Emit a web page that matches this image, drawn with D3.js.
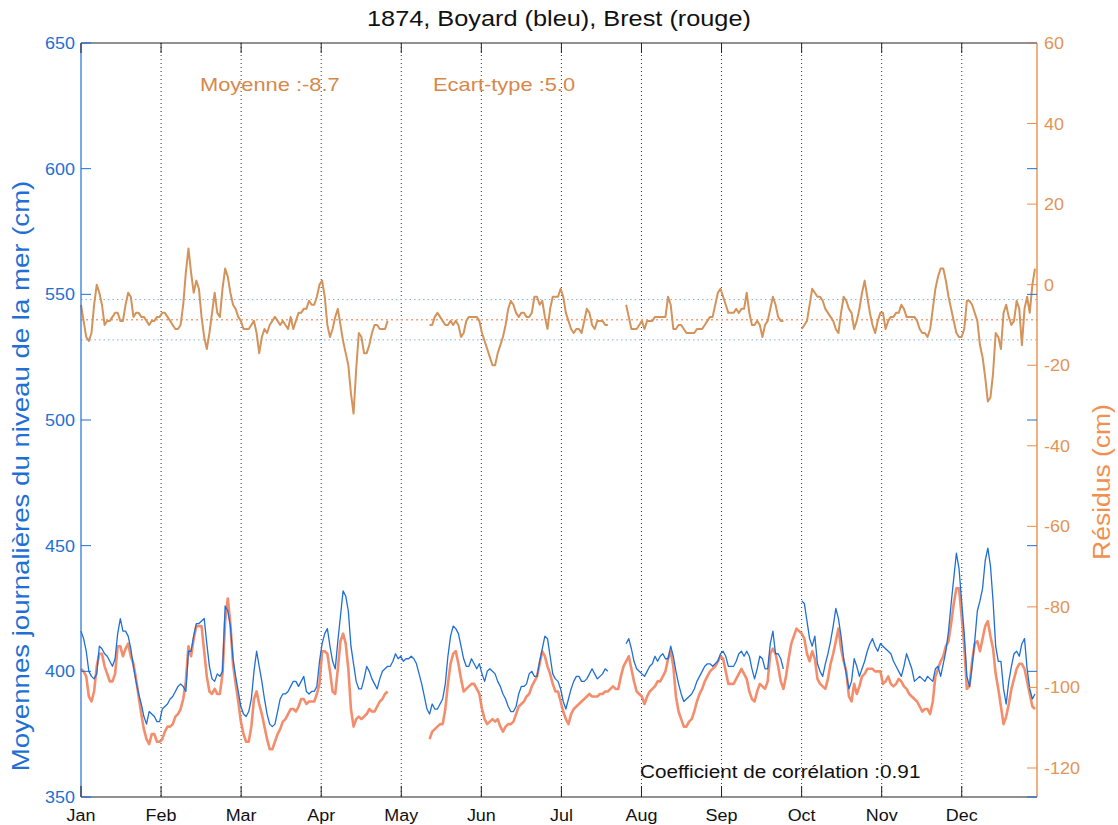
<!DOCTYPE html>
<html><head><meta charset="utf-8">
<script src="https://cdn.jsdelivr.net/npm/d3@7"></script>
<style>
body{margin:0;background:#fff}
svg{display:block}
text{font-family:"Liberation Sans",Arial,Helvetica,sans-serif}
</style>
</head><body>
<svg id="chart" width="1118" height="825"></svg>
<script>
// ---------- data ----------
const titleText = "1874, Boyard (bleu), Brest (rouge)";
const monthLabels = ["Jan","Feb","Mar","Apr","May","Jun","Jul","Aug","Sep","Oct","Nov","Dec"];
const leftTicks = [350,400,450,500,550,600,650];
const rightTicks = [-120,-100,-80,-60,-40,-20,0,20,40,60];
const residMean = -8.7;
const residStd = 5.0;
const correlation = 0.91;

// Boyard daily mean sea level (cm), day index 0..364
const boyard = [
416,413,408,400,398,397,399,410,409,407,
406,404,402,405,415,421,416,416,414,409,
402,396,391,387,382,379,384,383,382,380,
380,385,386,387,389,390,392,394,395,394,
392,408,408,414,419,419,420,421,411,402,
397,396,399,398,400,426,424,418,405,398,
392,386,383,382,384,389,400,408,402,396,
389,383,379,378,379,384,389,391,391,392,
394,396,396,394,396,398,392,391,392,392,
394,404,411,415,417,410,404,401,412,422,
432,430,424,410,403,396,393,393,397,402,
400,397,395,393,397,400,401,402,402,404,
407,405,406,404,405,405,406,405,403,399,
395,390,385,383,387,385,385,387,389,395,
406,414,418,417,415,410,405,402,402,405,
403,401,403,399,396,400,401,400,399,396,
394,391,389,386,384,384,386,391,394,394,
395,399,400,398,398,404,409,414,413,406,
399,397,396,393,388,385,389,393,396,398,
398,396,396,397,399,401,399,397,398,399,
401,400,null,null,null,null,null,null,411,413,
409,404,401,400,399,398,400,402,403,406,
404,406,407,405,405,410,406,400,395,391,
388,389,390,391,393,396,398,400,402,403,
403,402,403,404,407,408,406,402,402,402,
404,407,408,406,408,406,401,397,401,406,
405,401,401,411,416,407,407,405,401,null,
null,null,null,null,null,428,427,420,413,410,
414,403,400,398,403,407,412,418,425,421,
414,405,399,393,396,405,402,398,401,404,
408,411,413,410,408,411,410,409,408,407,
404,402,400,398,402,407,404,401,396,397,
398,397,396,398,397,396,401,402,398,403,
408,416,427,437,447,441,428,415,398,394,
402,412,424,428,433,444,449,442,428,410,
404,404,393,387,396,402,407,408,406,411,
413,401,393,389,391
];

// Brest daily mean sea level (cm)
const brest = [
401,400,398,390,388,392,402,407,407,402,
399,396,396,399,410,410,406,409,411,406,
403,397,390,383,377,373,371,375,375,372,
372,373,376,378,378,379,382,383,385,389,
396,410,406,413,418,418,418,408,398,392,
391,393,391,391,399,420,429,419,403,395,
388,380,375,372,372,378,389,392,387,383,
378,373,369,369,372,375,377,380,381,383,
385,385,384,386,389,389,387,388,388,388,
391,395,408,408,407,400,392,391,401,412,
415,411,401,385,378,381,382,381,382,383,
385,384,384,386,388,389,391,392,null,null,
null,null,null,null,null,null,null,null,null,null,
null,null,null,373,376,377,378,379,379,385,
395,403,407,408,403,397,392,393,394,395,
395,393,391,385,381,379,380,381,380,381,
378,376,378,379,379,380,383,386,387,388,
390,391,394,396,398,403,408,406,402,399,
395,392,392,388,384,381,379,383,385,386,
387,388,389,390,391,390,390,390,391,391,
392,392,393,394,393,393,398,402,404,406,
401,396,392,391,390,387,390,392,393,394,
396,396,398,400,405,408,402,390,384,381,
378,378,380,381,384,388,391,393,396,398,
400,401,402,404,406,405,400,395,395,395,
397,399,401,399,397,392,389,388,392,395,
394,393,396,407,409,407,402,396,393,398,
405,411,414,417,416,415,413,407,404,408,
405,397,395,394,393,397,403,407,412,417,
409,404,400,390,388,395,391,394,398,399,
401,401,401,400,400,400,395,396,398,395,
394,395,397,396,394,393,391,390,389,388,
386,384,385,385,383,388,398,401,404,406,
410,412,419,427,433,433,422,410,393,394,
404,411,412,408,413,418,420,414,409,399,
393,386,379,382,387,393,397,401,403,403,
401,396,391,386,385
];

// Residuals (cm), right axis
const residus = [
-5,-9,-13,-14,-12,-5,0,-2,-5,-10,
-9,-9,-8,-7,-7,-9,-9,-5,-2,-3,
-8,-7,-7,-8,-8,-9,-10,-9,-9,-8,
-8,-7,-7,-8,-9,-10,-11,-11,-10,-5,
3,9,3,-2,1,-1,-8,-13,-16,-12,
-7,-2,-7,-8,-1,4,2,-2,-5,-6,
-8,-9,-11,-11,-11,-10,-9,-12,-17,-13,
-11,-12,-10,-9,-8,-9,-10,-9,-10,-11,
-8,-11,-9,-7,-7,-6,-6,-4,-5,-5,
-3,0,1,-3,-10,-13,-11,-8,-6,-10,
-14,-17,-20,-27,-32,-21,-12,-13,-17,-17,
-15,-12,-10,-10,-11,-11,-11,-9,null,null,
null,null,null,null,null,null,null,null,null,null,
null,null,null,-10,-10,-8,-7,-8,-9,-10,
-10,-9,-10,-9,-10,-13,-12,-9,-8,-8,
-8,-8,-9,-12,-14,-16,-18,-20,-20,-17,
-15,-13,-10,-6,-4,-5,-7,-8,-7,-7,
-8,-8,-7,-3,-3,-5,-4,-8,-11,-6,
-3,-3,-3,-1,-3,-7,-9,-11,-12,-11,
-11,-12,-9,-6,-7,-10,-11,-9,-9,-9,
-10,-10,null,null,null,null,null,null,-5,-8,
-11,-11,-11,-10,-9,-11,-9,-9,-9,-8,
-8,-8,-8,-8,-3,-5,-11,-11,-10,-10,
-11,-12,-12,-12,-12,-11,-11,-11,-10,-9,
-8,-8,-5,-2,-1,-3,-5,-7,-7,-7,
-6,-7,-6,-6,-2,-7,-10,-10,-9,-10,
-13,-10,-9,-6,-3,-5,-8,-9,-9,null,
null,null,null,null,null,-11,-10,-9,-5,-1,
-2,-3,-3,-4,-6,-7,-8,-9,-11,-12,
-7,-3,-4,-6,-7,-11,-9,-6,-2,1,
-3,-7,-10,-12,-9,-7,-7,-11,-9,-8,
-8,-7,-7,-5,-6,-8,-8,-8,-8,-9,
-11,-12,-12,-13,-11,-6,-1,2,4,4,
1,-3,-6,-9,-12,-13,-13,-11,-4,-4,
-5,-7,-9,-15,-18,-23,-29,-28,-22,-12,
-13,-16,-7,-5,-8,-10,-9,-4,-6,-15,
-6,-3,-7,0,4
];

// ---------- layout ----------
const svg = d3.select("#chart");
const L = 81, R = 1037, T = 43, B = 797;
const BLUE = "#1f6fd4", RED = "#f3815c", TAN = "#d3935a", ORANGE = "#e98e4c";

const x = d3.scaleLinear().domain([0, 364]).range([L, 1035]);
const monthDays = 30.55; // spacing of month ticks on the picture
const yL = d3.scaleLinear().domain([350, 650]).range([B, T]);
const yR = d3.scaleLinear().domain([-127.2, 60]).range([B, T]);

function stretch(sel, f) {
  sel.each(function () {
    const w = this.getComputedTextLength();
    d3.select(this).attr("textLength", w * f).attr("lengthAdjust", "spacingAndGlyphs");
  });
}

// month grid lines (dotted)
const mIdx = d3.range(monthLabels.length);
svg.append("g").selectAll("line").data(mIdx.slice(1)).join("line")
  .attr("x1", i => x(i * monthDays)).attr("x2", i => x(i * monthDays))
  .attr("y1", T).attr("y2", B)
  .attr("stroke", "#333").attr("stroke-width", 1).attr("stroke-dasharray", "1,3");

// residual mean / std reference lines
svg.append("line").attr("x1", L).attr("x2", R)
  .attr("y1", yR(residMean + residStd)).attr("y2", yR(residMean + residStd))
  .attr("stroke", "#7fb2e6").attr("stroke-width", 1).attr("stroke-dasharray", "1.5,3");
svg.append("line").attr("x1", L).attr("x2", R)
  .attr("y1", yR(residMean - residStd)).attr("y2", yR(residMean - residStd))
  .attr("stroke", "#7fb2e6").attr("stroke-width", 1).attr("stroke-dasharray", "1.5,3");
svg.append("line").attr("x1", L).attr("x2", R)
  .attr("y1", yR(residMean)).attr("y2", yR(residMean))
  .attr("stroke", "#f3a07c").attr("stroke-width", 1.5).attr("stroke-dasharray", "2,3");

// lines
const lineL = d3.line().defined(d => d != null).x((d, i) => x(i)).y(d => yL(d));
const lineR = d3.line().defined(d => d != null).x((d, i) => x(i)).y(d => yR(d));

svg.append("path").datum(brest).attr("d", lineL)
  .attr("fill", "none").attr("stroke", RED).attr("stroke-width", 2.6)
  .attr("stroke-linejoin", "round").attr("opacity", 0.9);
svg.append("path").datum(boyard).attr("d", lineL)
  .attr("fill", "none").attr("stroke", BLUE).attr("stroke-width", 1.3)
  .attr("stroke-linejoin", "round");
svg.append("path").datum(residus).attr("d", lineR)
  .attr("fill", "none").attr("stroke", TAN).attr("stroke-width", 2)
  .attr("stroke-linejoin", "round");

// frame
svg.append("line").attr("x1", L).attr("x2", R).attr("y1", T).attr("y2", T).attr("stroke", "#222").attr("stroke-width", 1.2);
svg.append("line").attr("x1", L).attr("x2", R).attr("y1", B).attr("y2", B).attr("stroke", "#222").attr("stroke-width", 1.2);
svg.append("line").attr("x1", L).attr("x2", L).attr("y1", T).attr("y2", B).attr("stroke", BLUE).attr("stroke-width", 1.2);
svg.append("line").attr("x1", R).attr("x2", R).attr("y1", T).attr("y2", B).attr("stroke", ORANGE).attr("stroke-width", 1.4);

// month ticks (inward, top and bottom) + labels
const gm = svg.append("g");
gm.selectAll("line.b").data(mIdx).join("line").attr("class", "b")
  .attr("x1", i => x(i * monthDays)).attr("x2", i => x(i * monthDays))
  .attr("y1", B).attr("y2", B - 11).attr("stroke", "#222");
gm.selectAll("line.t").data(mIdx).join("line").attr("class", "t")
  .attr("x1", i => x(i * monthDays)).attr("x2", i => x(i * monthDays))
  .attr("y1", T).attr("y2", T + 10).attr("stroke", "#222");
gm.selectAll("text").data(mIdx).join("text")
  .attr("x", i => x(i * monthDays)).attr("y", 821)
  .attr("text-anchor", "middle").attr("font-size", 16).attr("fill", "#111")
  .text(i => monthLabels[i]).call(stretch, 1.12);

// left axis ticks + labels
const gl = svg.append("g");
gl.selectAll("line.l").data(leftTicks).join("line").attr("class", "l")
  .attr("x1", L).attr("x2", L + 10).attr("y1", d => yL(d)).attr("y2", d => yL(d))
  .attr("stroke", BLUE);
gl.selectAll("line.r").data(leftTicks).join("line").attr("class", "r")
  .attr("x1", R - 10).attr("x2", R).attr("y1", d => yL(d)).attr("y2", d => yL(d))
  .attr("stroke", BLUE);
gl.selectAll("text").data(leftTicks).join("text")
  .attr("x", 75).attr("y", d => yL(d) + 6)
  .attr("text-anchor", "end").attr("font-size", 16).attr("fill", BLUE)
  .text(d => d).call(stretch, 1.12);

// right axis ticks + labels
const gr = svg.append("g");
gr.selectAll("line").data(rightTicks).join("line")
  .attr("x1", R - 10).attr("x2", R).attr("y1", d => yR(d)).attr("y2", d => yR(d))
  .attr("stroke", ORANGE);
gr.selectAll("text").data(rightTicks).join("text")
  .attr("x", 1044).attr("y", d => yR(d) + 6)
  .attr("text-anchor", "start").attr("font-size", 16).attr("fill", "#e39456")
  .text(d => d).call(stretch, 1.12);

// titles / labels
svg.append("text").attr("x", 559).attr("y", 26).attr("text-anchor", "middle")
  .attr("font-size", 22).attr("fill", "#111").text(titleText).call(stretch, 1.15);

svg.append("text").attr("transform", "translate(29,476) rotate(-90)")
  .attr("text-anchor", "middle").attr("font-size", 24).attr("fill", BLUE)
  .text("Moyennes journalières du niveau de la mer (cm)").call(stretch, 1.15);

svg.append("text").attr("transform", "translate(1110,482) rotate(-90)")
  .attr("text-anchor", "middle").attr("font-size", 23).attr("fill", "#f0904e")
  .text("Résidus (cm)").call(stretch, 1.15);

svg.append("text").attr("x", 200).attr("y", 91)
  .attr("font-size", 19).attr("fill", "#d6884a")
  .text("Moyenne :" + residMean.toFixed(1)).call(stretch, 1.15);
svg.append("text").attr("x", 433).attr("y", 91)
  .attr("font-size", 19).attr("fill", "#d6884a")
  .text("Ecart-type :" + residStd.toFixed(1)).call(stretch, 1.15);
svg.append("text").attr("x", 640).attr("y", 778)
  .attr("font-size", 18).attr("fill", "#111")
  .text("Coefficient de corrélation :" + correlation.toFixed(2)).call(stretch, 1.15);
</script>
</body></html>
